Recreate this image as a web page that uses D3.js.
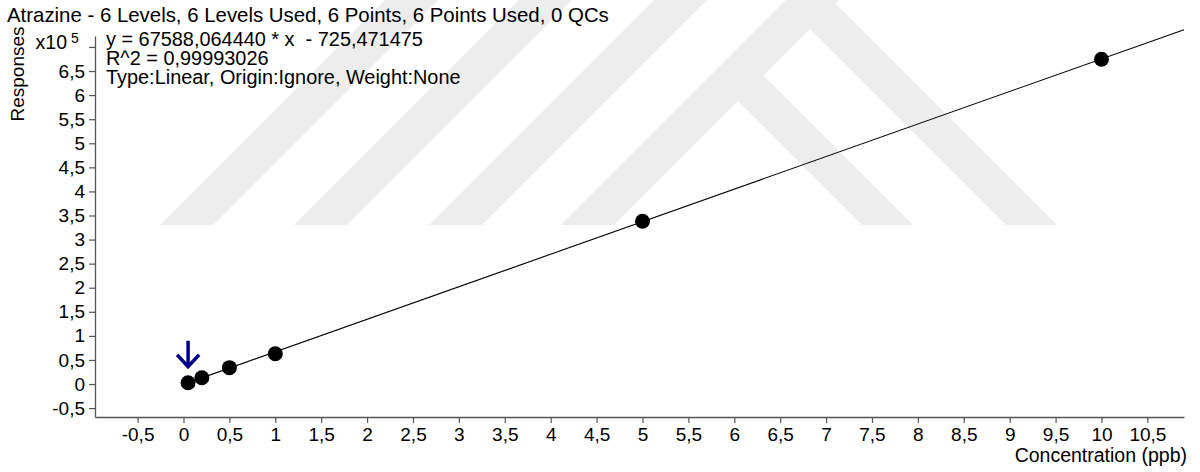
<!DOCTYPE html>
<html>
<head>
<meta charset="utf-8">
<script src="https://cdn.jsdelivr.net/npm/d3@7"></script>
<style>
  body { margin: 0; background: #fff; }
  svg { display: block; font-family: "Liberation Sans", Arial, sans-serif; }
</style>
</head>
<body>
<div id="chart"></div>
<script>
// ------------------------------
// Data
// ------------------------------
const chartTitle = "Atrazine - 6 Levels, 6 Levels Used, 6 Points, 6 Points Used, 0 QCs";
const fitText = [
  "y = 67588,064440 * x  - 725,471475",
  "R^2 = 0,99993026",
  "Type:Linear, Origin:Ignore, Weight:None"
];
const fitSlope = 67588.064440;
const fitIntercept = -725.471475;

const concentrations = [0.05, 0.2, 0.5, 1, 5, 10];          // ppb
const responses = [2700, 13000, 34000, 63000, 338000, 674500];

const xTickValues = [-0.5, 0, 0.5, 1, 1.5, 2, 2.5, 3, 3.5, 4, 4.5, 5, 5.5, 6, 6.5, 7, 7.5, 8, 8.5, 9, 9.5, 10, 10.5];
const yTickValues = [-0.5, 0, 0.5, 1, 1.5, 2, 2.5, 3, 3.5, 4, 4.5, 5, 5.5, 6, 6.5, 7]; // x10^5

// ------------------------------
// Layout
// ------------------------------
const width = 1200, height = 472;
const plotLeft = 95, plotRight = 1184, plotTop = 36, plotBottom = 417;
const fontSize = "19.5px";

const svg = d3.select("#chart").append("svg")
  .attr("width", width)
  .attr("height", height);

svg.append("rect").attr("width", width).attr("height", height).attr("fill", "#fff");

// faint page watermark behind the plot
const wm = svg.append("g").attr("fill", "#ededed");
const wmBottom = 225, bandW = 53, band4 = 786;
[385, 519, 654, band4].forEach(a => {
  wm.append("polygon").attr("points", [
    [a - wmBottom, wmBottom], [a + bandW - wmBottom, wmBottom], [a + bandW, 0], [a, 0]
  ].join(" "));
});
[[637, 51], [781, 51]].forEach(([b, w]) => {
  wm.append("polygon").attr("points", [
    [b + wmBottom, wmBottom], [b + w + wmBottom, wmBottom],
    [(band4 + b + w) / 2, (band4 - b - w) / 2], [(band4 + b) / 2, (band4 - b) / 2]
  ].join(" "));
});

// ------------------------------
// Scales & axes
// ------------------------------
const x = d3.scaleLinear().domain([-0.964, 10.899]).range([plotLeft, plotRight]);
const y = d3.scaleLinear().domain([-0.685e5, 7.228e5]).range([plotBottom, plotTop]);

const locale = d3.formatLocale({ decimal: ",", thousands: ".", grouping: [3], currency: ["", ""], minus: "-" });
const fmt = locale.format("~g");

const xAxis = svg.append("g")
  .attr("transform", `translate(0,${plotBottom})`)
  .call(d3.axisBottom(x).tickValues(xTickValues).tickFormat(fmt).tickSize(6).tickPadding(5).tickSizeOuter(0));

const yAxis = svg.append("g")
  .attr("transform", `translate(${plotLeft},0)`)
  .call(d3.axisLeft(y).tickValues(yTickValues.map(v => v * 1e5))
    .tickFormat(d => d === 7e5 ? "" : fmt(d / 1e5)).tickSize(6).tickPadding(4).tickSizeOuter(0));

[xAxis, yAxis].forEach(g => {
  g.select(".domain").attr("stroke", "#555").attr("stroke-width", 1.3);
  g.selectAll(".tick line").attr("stroke", "#555").attr("stroke-width", 1.2);
  g.selectAll(".tick text").attr("fill", "#000").style("font-size", "19px").style("font-family", "Liberation Sans, Arial, sans-serif");
});

// exponent label at the top tick
svg.append("text")
  .attr("x", plotLeft - 28)
  .attr("y", y(7e5) + 2)
  .attr("text-anchor", "end")
  .style("font-size", fontSize)
  .text("x10");
svg.append("text")
  .attr("x", plotLeft - 24)
  .attr("y", y(7e5) - 4)
  .style("font-size", "14px")
  .text("5");

// axis titles
svg.append("text")
  .attr("transform", `translate(24,74) rotate(-90)`)
  .attr("text-anchor", "middle")
  .style("font-size", "19px")
  .text("Responses");

svg.append("text")
  .attr("x", 1187)
  .attr("y", 462)
  .attr("text-anchor", "end")
  .style("font-size", fontSize)
  .text("Concentration (ppb)");

// chart title and fit information
svg.append("text")
  .attr("x", 7)
  .attr("y", 22)
  .style("font-size", "20.4px")
  .text(chartTitle);

svg.append("g").selectAll("text")
  .data(fitText)
  .enter()
  .append("text")
  .attr("x", 106)
  .attr("y", (d, i) => 46 + i * 19)
  .style("font-size", "19.9px")
  .style("white-space", "pre")
  .text(d => d);

// ------------------------------
// Regression line & points
// ------------------------------
const xMax = x.domain()[1];
svg.append("line")
  .attr("x1", x(0))
  .attr("y1", y(fitIntercept))
  .attr("x2", x(xMax))
  .attr("y2", y(fitSlope * xMax + fitIntercept))
  .attr("stroke", "#000")
  .attr("stroke-width", 1.1);

svg.selectAll(".pt")
  .data(concentrations)
  .enter()
  .append("circle")
  .attr("class", "pt")
  .attr("cx", d => x(d))
  .attr("cy", (d, i) => y(responses[i]))
  .attr("r", 7.5)
  .attr("fill", "#000");

// blue arrow marking the lowest calibration level
const ax = x(concentrations[0]), ay = y(responses[0]);
svg.append("path")
  .attr("d", `M${ax},${ay - 42}V${ay - 16}M${ax - 11},${ay - 28}L${ax},${ay - 16}L${ax + 11},${ay - 28}`)
  .attr("fill", "none")
  .attr("stroke", "#00008b")
  .attr("stroke-width", 3.5)
  .attr("stroke-linejoin", "miter");
</script>
</body>
</html>
